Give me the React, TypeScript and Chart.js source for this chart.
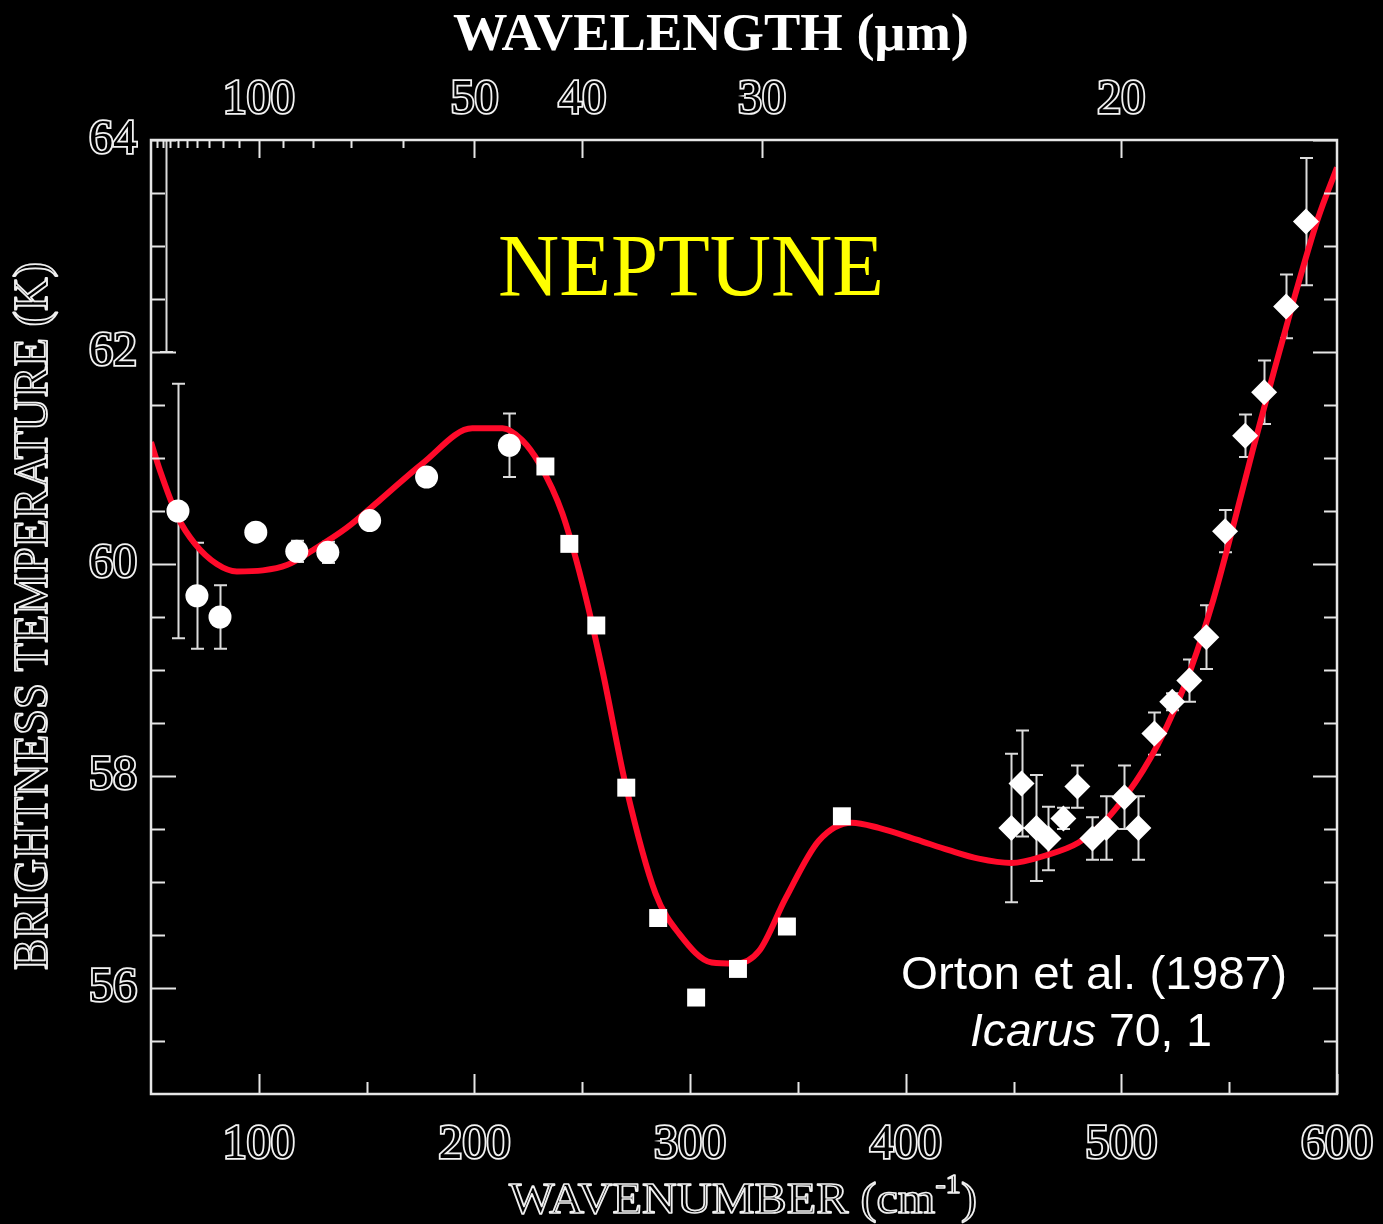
import React, { useEffect, useRef } from 'react';
import { Chart, registerables } from 'chart.js';

Chart.register(...registerables);

// ---- tick definitions ----
const xTickValues = [100, 200, 300, 400, 500, 600];
const xMinorValues = [150, 250, 350, 450, 550];
const yTickValues = [56, 58, 60, 62, 64];
const yMinorValues = [55.5, 56.5, 57, 57.5, 58.5, 59, 59.5, 60.5, 61, 61.5, 62.5, 63, 63.5];
const wavelengthLabels = [100, 50, 40, 30, 20];
const wavelengthMinor = [190, 180, 170, 160, 150, 140, 130, 120, 110, 90, 80, 70, 60];

// ---- data: circles (with error bars) ----
const circleWn = [62.5, 71.3, 82, 98.6, 117.6, 132, 151.4, 177.8, 216.2];
const circleT = [60.5, 59.7, 59.5, 60.3, 60.12, 60.11, 60.41, 60.82, 61.12];
const circleErr = [1.2, 0.5, 0.3, 0.05, 0.1, 0.1, 0.06, 0.06, 0.3];

// off-scale point (only its lower error bar is visible)
const offscaleWn = [57];
const offscaleLow = [62];
const offscaleHigh = [66];

// ---- data: squares ----
const squareWn = [232.9, 244, 256.5, 270.4, 285.2, 302.8, 322.2, 344.9, 370.4];
const squareT = [60.92, 60.19, 59.42, 57.89, 56.66, 55.91, 56.18, 56.58, 57.62];

// ---- data: diamonds (with error bars) ----
const diamondWn = [449, 453.7, 460.6, 466.2, 473.1, 479.6, 486.6, 493, 501.4, 507.9, 515.3, 523.6, 531.5, 539.4, 548.1, 557.4, 566.2, 576.4, 585.6];
const diamondT = [57.51, 57.93, 57.51, 57.41, 57.6, 57.9, 57.41, 57.51, 57.8, 57.51, 58.4, 58.7, 58.9, 59.31, 60.31, 61.21, 61.62, 62.43, 63.23];
const diamondErr = [0.7, 0.5, 0.5, 0.3, 0.1, 0.2, 0.2, 0.3, 0.3, 0.3, 0.2, 0.08, 0.2, 0.3, 0.2, 0.2, 0.3, 0.3, 0.6];

// ---- data: model fit curve ----
const fitWn = [50, 54.2, 62.5, 70.4, 80.5, 89.8, 101.9, 113, 125, 140.7, 156, 176, 199, 213, 222, 230, 240.7, 250, 259.3, 270.4, 284, 295, 310, 321, 332, 344.4, 359.7, 375, 387.5, 405, 420, 433.8, 449, 464.8, 480, 492.6, 503, 510, 517, 524.5, 532.4, 542.6, 551.9, 561, 570.8, 580.6, 591, 600];
const fitT = [61.15, 60.88, 60.44, 60.19, 60.0, 59.93, 59.94, 59.99, 60.13, 60.34, 60.6, 60.95, 61.28, 61.28, 61.17, 60.95, 60.48, 59.82, 59.0, 57.89, 56.89, 56.51, 56.24, 56.23, 56.35, 56.85, 57.39, 57.56, 57.51, 57.4, 57.3, 57.22, 57.18, 57.25, 57.37, 57.58, 57.84, 58.05, 58.3, 58.62, 59.02, 59.66, 60.36, 61.08, 61.82, 62.54, 63.25, 63.74];

const AXIS_COLOR = '#e6e6e6';
const RED = '#ff0a2a';

function zip(xs: number[], ys: number[]) {
  return xs.map((x, i) => ({ x, y: ys[i] }));
}

type Part = { text: string; font: string; dy?: number };

function drawParts(ctx: CanvasRenderingContext2D, parts: Part[], cx: number, baseline: number, targetW: number, mode: 'fill' | 'stroke', color: string, lineWidth = 1.5) {
  let total = 0;
  const widths = parts.map((p) => {
    ctx.font = p.font;
    const w = ctx.measureText(p.text).width;
    total += w;
    return w;
  });
  const s = targetW / total;
  ctx.save();
  ctx.translate(cx - targetW / 2, baseline);
  ctx.scale(s, 1);
  ctx.textAlign = 'left';
  ctx.textBaseline = 'alphabetic';
  ctx.fillStyle = color;
  ctx.strokeStyle = color;
  ctx.lineWidth = lineWidth / s;
  ctx.lineJoin = 'round';
  let x = 0;
  parts.forEach((p, i) => {
    ctx.font = p.font;
    if (mode === 'fill') ctx.fillText(p.text, x, p.dy || 0);
    else ctx.strokeText(p.text, x, p.dy || 0);
    x += widths[i];
  });
  ctx.restore();
}

function drawErrorBars(ctx: CanvasRenderingContext2D, xs: number[], lows: number[], highs: number[], xs_: any, ys_: any, cap: number) {
  xs.forEach((v, i) => {
    const px = Math.round(xs_.getPixelForValue(v)) + 0.5;
    const y1 = ys_.getPixelForValue(lows[i]);
    const y2 = ys_.getPixelForValue(highs[i]);
    ctx.beginPath();
    ctx.moveTo(px, y1);
    ctx.lineTo(px, y2);
    ctx.moveTo(px - cap, y1);
    ctx.lineTo(px + cap, y1);
    ctx.moveTo(px - cap, y2);
    ctx.lineTo(px + cap, y2);
    ctx.stroke();
  });
}

const decorPlugin = {
  id: 'decor',
  beforeDatasetsDraw(chart: any) {
    const { ctx, chartArea, scales } = chart;
    const xs = scales.x;
    const ys = scales.y;
    ctx.save();
    ctx.beginPath();
    ctx.rect(chartArea.left, chartArea.top, chartArea.right - chartArea.left, chartArea.bottom - chartArea.top);
    ctx.clip();
    ctx.strokeStyle = '#dcdcdc';
    ctx.lineWidth = 2;
    drawErrorBars(ctx, circleWn, circleT.map((t, i) => t - circleErr[i]), circleT.map((t, i) => t + circleErr[i]), xs, ys, 6.5);
    drawErrorBars(ctx, diamondWn, diamondT.map((t, i) => t - diamondErr[i]), diamondT.map((t, i) => t + diamondErr[i]), xs, ys, 6.5);
    drawErrorBars(ctx, offscaleWn, offscaleLow, offscaleHigh, xs, ys, 6.5);
    ctx.restore();
  },
  afterDraw(chart: any) {
    const { ctx, chartArea, scales } = chart;
    const xs = scales.x;
    const ys = scales.y;
    const { left, right, top, bottom } = chartArea;
    ctx.save();
    ctx.strokeStyle = AXIS_COLOR;
    ctx.lineWidth = 2.5;
    ctx.strokeRect(left, top, right - left, bottom - top);
    ctx.lineWidth = 2;
    ctx.beginPath();
    yTickValues.forEach((v) => {
      const py = Math.round(ys.getPixelForValue(v)) + 0.5;
      ctx.moveTo(left, py); ctx.lineTo(left + 25, py);
      ctx.moveTo(right, py); ctx.lineTo(right - 24, py);
    });
    yMinorValues.forEach((v) => {
      const py = Math.round(ys.getPixelForValue(v)) + 0.5;
      ctx.moveTo(left, py); ctx.lineTo(left + 14, py);
      ctx.moveTo(right, py); ctx.lineTo(right - 13, py);
    });
    xTickValues.forEach((v) => {
      const px = Math.round(xs.getPixelForValue(v)) + 0.5;
      ctx.moveTo(px, bottom); ctx.lineTo(px, bottom - 20);
    });
    xMinorValues.forEach((v) => {
      const px = Math.round(xs.getPixelForValue(v)) + 0.5;
      ctx.moveTo(px, bottom); ctx.lineTo(px, bottom - 12);
    });
    wavelengthLabels.forEach((l) => {
      const px = Math.round(xs.getPixelForValue(10000 / l)) + 0.5;
      ctx.moveTo(px, top); ctx.lineTo(px, top + 18);
    });
    wavelengthMinor.forEach((l) => {
      const px = Math.round(xs.getPixelForValue(10000 / l)) + 0.5;
      ctx.moveTo(px, top); ctx.lineTo(px, top + 8);
    });
    ctx.stroke();
    ctx.restore();

    drawParts(ctx, [{ text: 'WAVELENGTH (μm)', font: 'bold 52px "Liberation Serif"' }], 711, 50, 516, 'fill', '#ffffff');
    drawParts(ctx, [
      { text: 'WAVENUMBER (cm', font: '44px "Liberation Serif"' },
      { text: '-1', font: '28px "Liberation Serif"', dy: -20 },
      { text: ')', font: '44px "Liberation Serif"' },
    ], 743, 1213, 468, 'stroke', '#f0f0f0', 1.8);

    ctx.save();
    ctx.translate(47, 616);
    ctx.rotate(-Math.PI / 2);
    drawParts(ctx, [{ text: 'BRIGHTNESS TEMPERATURE (K)', font: '48px "Liberation Serif"' }], 0, 0, 708, 'stroke', '#f0f0f0', 1.8);
    ctx.restore();

    drawParts(ctx, [{ text: 'NEPTUNE', font: '88px "Liberation Serif"' }], 691, 295, 386, 'fill', '#ffff00');

    drawParts(ctx, [{ text: 'Orton et al. (1987)', font: '47px "Liberation Sans"' }], 1094, 989, 386, 'fill', '#ffffff');
    drawParts(ctx, [
      { text: 'Icarus', font: 'italic 47px "Liberation Sans"' },
      { text: ' 70, 1', font: '47px "Liberation Sans"' },
    ], 1091, 1046, 242, 'fill', '#ffffff');
  },
};

const tickFont = { family: '"Liberation Serif"', size: 48 };

export default function App() {
  const canvasRef = useRef<HTMLCanvasElement | null>(null);

  useEffect(() => {
    document.body.style.margin = '0';
    document.body.style.background = '#000';
    const canvas = canvasRef.current;
    if (!canvas) return;
    const tickCommon = {
      font: tickFont,
      color: '#000000',
      textStrokeColor: '#f2f2f2',
      textStrokeWidth: 3.5,
      autoSkip: false,
      maxRotation: 0,
      minRotation: 0,
    };
    const chart = new Chart(canvas, {
      type: 'scatter',
      data: {
        datasets: [
          {
            label: 'circles',
            data: zip(circleWn, circleT),
            pointStyle: 'circle',
            pointRadius: 11.5,
            pointBackgroundColor: '#ffffff',
            pointBorderWidth: 0,
            order: 0,
          },
          {
            label: 'squares',
            data: zip(squareWn, squareT),
            pointStyle: 'rect',
            pointRadius: 12.7,
            pointBackgroundColor: '#ffffff',
            pointBorderWidth: 0,
            order: 0,
          },
          {
            label: 'diamonds',
            data: zip(diamondWn, diamondT),
            pointStyle: 'rectRot',
            pointRadius: 13,
            pointBackgroundColor: '#ffffff',
            pointBorderWidth: 0,
            order: 0,
          },
          {
            label: 'fit',
            data: zip(fitWn, fitT),
            showLine: true,
            borderColor: RED,
            borderWidth: 6,
            pointRadius: 0,
            cubicInterpolationMode: 'monotone',
            order: 1,
          } as any,
        ],
      },
      options: {
        animation: false,
        responsive: false,
        devicePixelRatio: 1,
        layout: { padding: { left: 0, right: 46, top: 0, bottom: 0 } },
        plugins: { legend: { display: false }, tooltip: { enabled: false } },
        scales: {
          x: {
            type: 'linear',
            position: 'bottom',
            min: 50,
            max: 600,
            grid: { display: false, drawTicks: false },
            border: { display: false },
            ticks: { ...tickCommon, padding: 23 },
            afterBuildTicks: (scale: any) => {
              scale.ticks = xTickValues.map((v) => ({ value: v }));
            },
            afterFit: (scale: any) => {
              scale.height = 130;
              scale.paddingLeft = 0;
              scale.paddingRight = 0;
            },
          },
          x2: {
            type: 'linear',
            position: 'top',
            min: 50,
            max: 600,
            grid: { display: false, drawTicks: false },
            border: { display: false },
            ticks: {
              ...tickCommon,
              padding: 11,
              callback: (v: any) => String(Math.round(10000 / Number(v))),
            },
            afterBuildTicks: (scale: any) => {
              scale.ticks = wavelengthLabels.map((l) => ({ value: 10000 / l }));
            },
            afterFit: (scale: any) => {
              scale.height = 140;
              scale.paddingLeft = 0;
              scale.paddingRight = 0;
            },
          },
          y: {
            type: 'linear',
            position: 'left',
            min: 55,
            max: 64,
            grid: { display: false, drawTicks: false },
            border: { display: false },
            ticks: { ...tickCommon, padding: 14 },
            afterBuildTicks: (scale: any) => {
              scale.ticks = yTickValues.map((v) => ({ value: v }));
            },
            afterFit: (scale: any) => {
              scale.width = 151;
              scale.paddingTop = 0;
              scale.paddingBottom = 0;
            },
          },
        },
      } as any,
      plugins: [decorPlugin],
    });
    return () => chart.destroy();
  }, []);

  return (
    <div style={{ position: 'fixed', left: 0, top: 0, width: 1383, height: 1224, background: '#000' }}>
      <canvas ref={canvasRef} width={1383} height={1224} style={{ display: 'block' }} />
    </div>
  );
}
